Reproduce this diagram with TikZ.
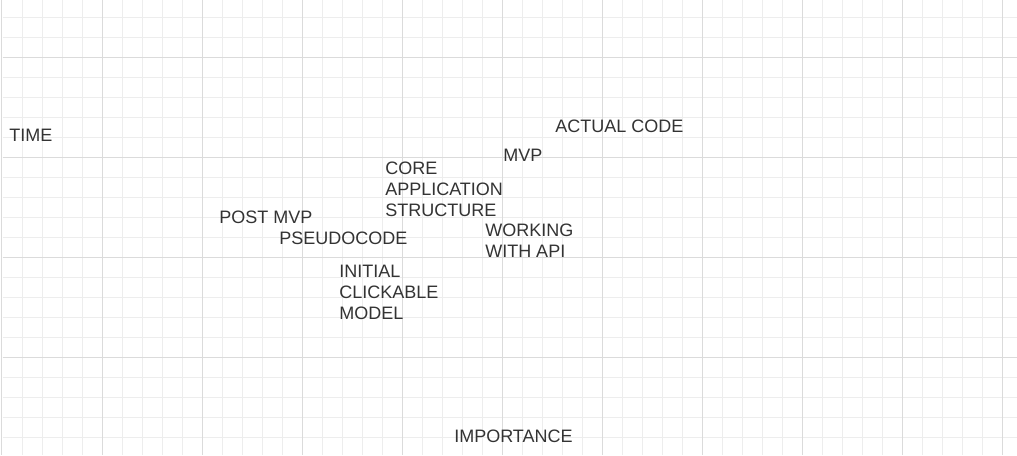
\documentclass[tikz,border=0pt]{standalone}
\usepackage{fontspec}
\setmainfont{Liberation Sans}
\definecolor{minorgrid}{HTML}{EDEDED}
\definecolor{majorgrid}{HTML}{DBDBDB}
\definecolor{labeltext}{HTML}{333333}
\tikzset{
  minorline/.style={draw=minorgrid, line width=0.75pt},
  majorline/.style={draw=majorgrid, line width=0.75pt},
  lbl/.style={anchor=base west, inner sep=0pt, text=labeltext,
    font=\fontsize{13.5}{15.75}\selectfont, align=left}
}
\begin{document}
\begin{tikzpicture}[x=0.75pt,y=-0.75pt]
\useasboundingbox (0,0) rectangle (1017,455);
\fill[white] (0,0) rectangle (1017,455);
% minor grid
\foreach \gx in {22.5,42.5,...,1002.5} \draw[minorline] (\gx,0) -- (\gx,455);
\foreach \gy in {17.5,37.5,...,437.5} \draw[minorline] (2.5,\gy) -- (1017,\gy);
% major grid
\foreach \gx in {1.5,102.5,202.5,302.5,402.5,502.5,602.5,702.5,802.5,902.5,1002.5} \draw[majorline] (\gx,0) -- (\gx,455);
\foreach \gy in {57.5,157.5,257.5,357.5} \draw[majorline] (2.5,\gy) -- (1017,\gy);
% labels (multi-line nodes are placed at the baseline of their last line)
\node[lbl] (time) at (9,141) {TIME};
\node[lbl] (actual) at (555,132.5) {ACTUAL CODE};
\node[lbl] (mvp) at (503,161) {MVP};
\node[lbl] (core) at (385,216.7) {CORE\\APPLICATION\\STRUCTURE};
\node[lbl] (postmvp) at (219,223.5) {POST MVP};
\node[lbl] (pseudo) at (279,244) {PSEUDOCODE};
\node[lbl] (api) at (485,257.3) {WORKING\\WITH API};
\node[lbl] (initial) at (339,319.3) {INITIAL\\CLICKABLE\\MODEL};
\node[lbl] (importance) at (454,442.7) {IMPORTANCE};
\end{tikzpicture}
\end{document}
